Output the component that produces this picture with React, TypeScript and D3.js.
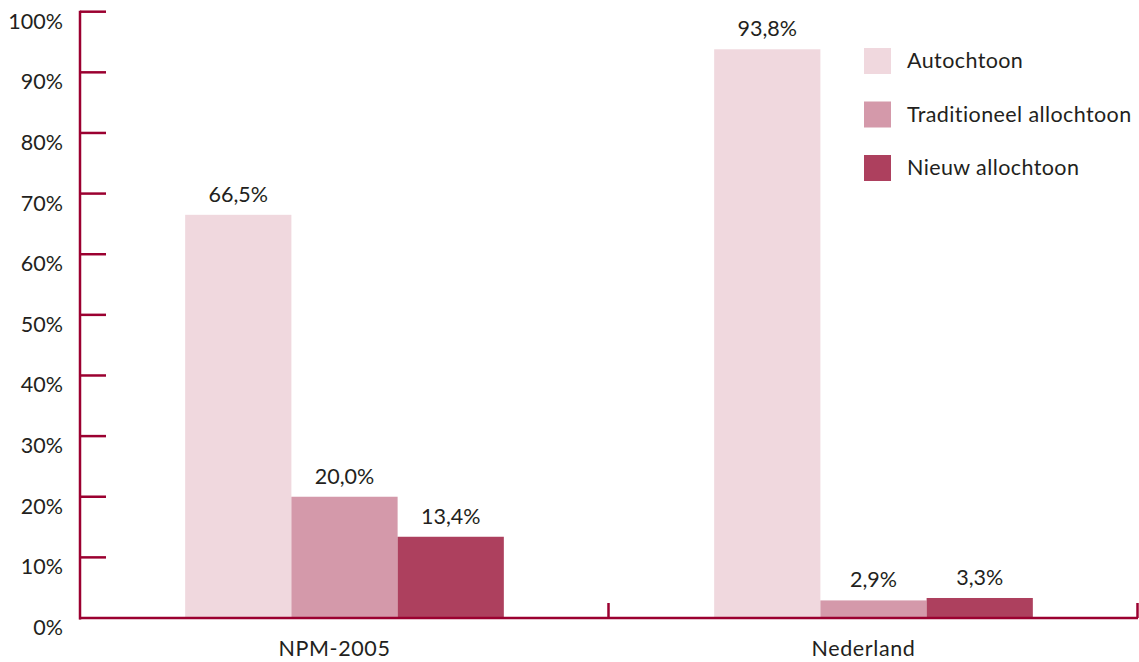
import React from "react";
import * as d3 from "d3";

const categories = ["NPM-2005", "Nederland"];
const seriesNames = ["Autochtoon", "Traditioneel allochtoon", "Nieuw allochtoon"];
const autochtoon = [66.5, 93.8];
const traditioneel = [20.0, 2.9];
const nieuw = [13.4, 3.3];
const yTicks = [0, 10, 20, 30, 40, 50, 60, 70, 80, 90, 100];

const colors = ["#f0d8de", "#d499aa", "#ad405e"];
const axisColor = "#9b0030";
const textColor = "#231f20";
const font = "Lato, 'Open Sans', sans-serif";

export default function App() {
  const width = 1139, height = 662;
  const x0 = 80, x1 = 1138, yTop = 11.7, yBot = 618;
  const series = [autochtoon, traditioneel, nieuw];

  const x = d3.scaleBand<string>().domain(categories).range([x0, x1]).paddingInner(0).paddingOuter(0);
  const xs = d3.scaleBand<string>().domain(seriesNames).range([0, x.bandwidth()]).paddingOuter(0.99).paddingInner(0);
  const y = d3.scaleLinear().domain([0, 100]).range([yBot, yTop]);
  const fmt = (v: number) => v.toFixed(1).replace(".", ",") + "%";
  const fs = 21.5;

  return (
    <svg width={width} height={height} style={{ position: "absolute", left: 0, top: 0, fontFamily: font }}>
      {series.map((vals, si) =>
        categories.map((c, ci) => {
          const bx = (x(c) as number) + (xs(seriesNames[si]) as number);
          const bw = xs.bandwidth();
          return (
            <g key={`${si}-${ci}`}>
              <rect x={bx} y={y(vals[ci])} width={bw} height={yBot - y(vals[ci])} fill={colors[si]} />
              <text x={bx + bw / 2} y={y(vals[ci]) - 13} textAnchor="middle" fontSize={fs} fill={textColor}>
                {fmt(vals[ci])}
              </text>
            </g>
          );
        })
      )}
      {/* y axis */}
      <line x1={x0} x2={x0} y1={yTop - 1} y2={yBot + 1.5} stroke={axisColor} strokeWidth={2.5} />
      {yTicks.map((t) => (
        <g key={t}>
          {t > 0 && <line x1={x0} x2={x0 + 26} y1={y(t)} y2={y(t)} stroke={axisColor} strokeWidth={2.5} />}
          <text x={63} y={y(t) + 17} textAnchor="end" fontSize={fs} fill={textColor}>{t}%</text>
        </g>
      ))}
      {/* x axis */}
      <line x1={x0 - 1} x2={x1} y1={yBot} y2={yBot} stroke={axisColor} strokeWidth={2.5} />
      {categories.map((c) => {
        const right = (x(c) as number) + x.bandwidth();
        return (
          <g key={c}>
            <line x1={right - 0.5} x2={right - 0.5} y1={yBot} y2={yBot - 15} stroke={axisColor} strokeWidth={2.5} />
            <text x={(x(c) as number) + x.bandwidth() / 2 - 10} y={656} textAnchor="middle" fontSize={fs} letterSpacing={0.6} fill={textColor}>{c}</text>
          </g>
        );
      })}
      {/* legend */}
      {seriesNames.map((s, i) => (
        <g key={s} transform={`translate(864, ${48 + i * 53.5})`}>
          <rect width={27} height={26} fill={colors[i]} />
          <text x={43} y={20} fontSize={fs} letterSpacing={0.4} fill={textColor}>{s}</text>
        </g>
      ))}
    </svg>
  );
}
